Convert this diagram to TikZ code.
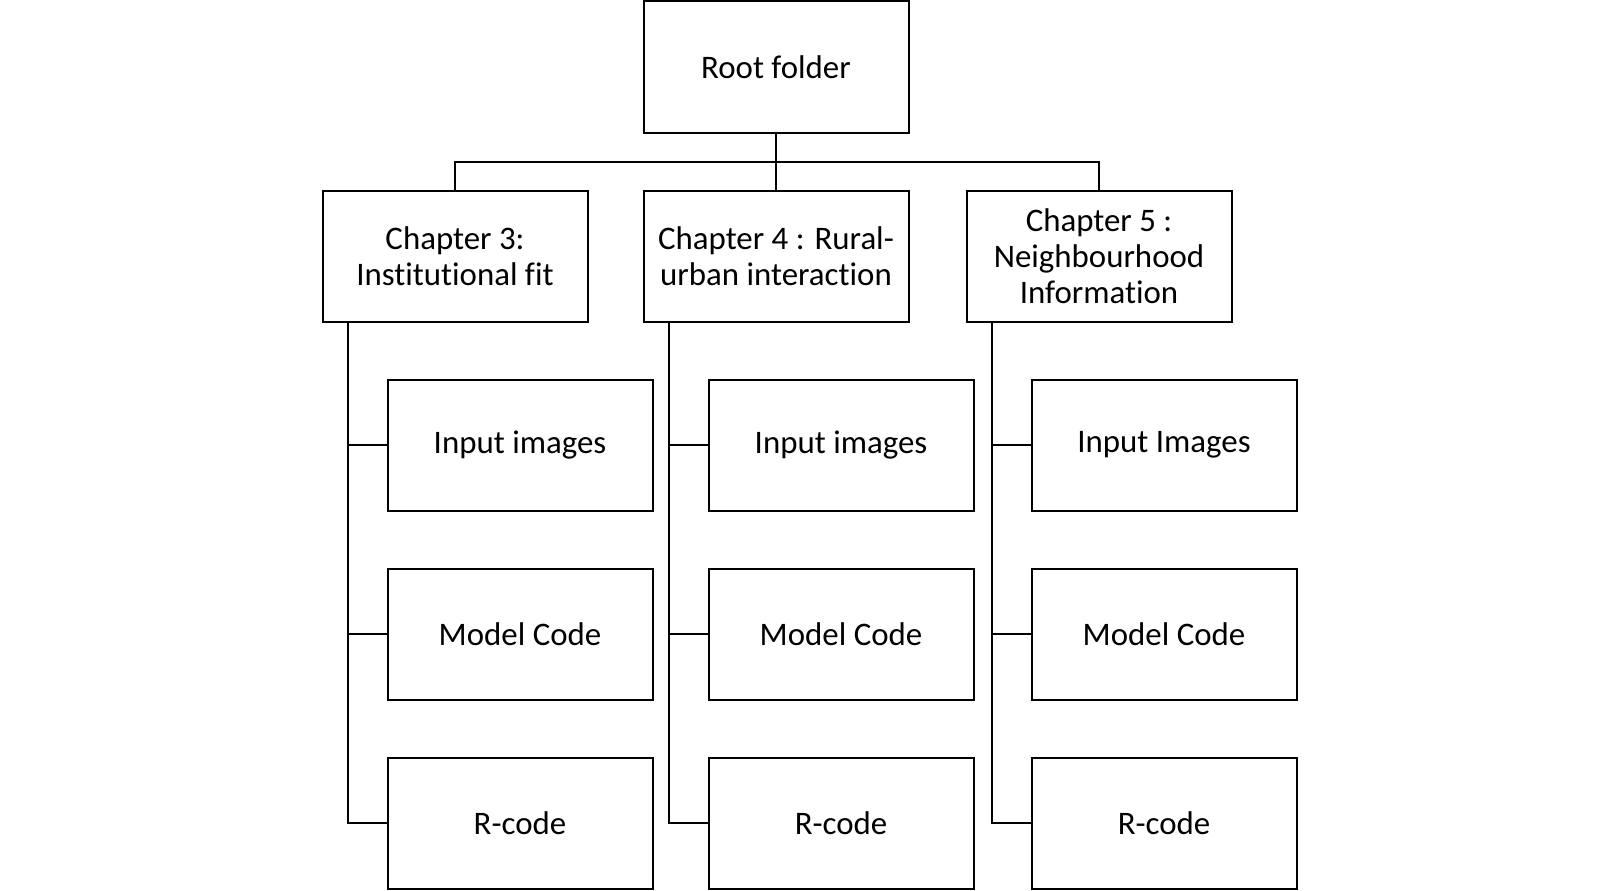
\documentclass[tikz,border=0pt]{standalone}
\usepackage{fontspec}
\setmainfont{Carlito}[Ligatures=NoCommon]

\begin{document}
\begin{tikzpicture}[x=1bp,y=-1bp,line width=2bp,
		folder/.style={draw,minimum width=265bp,minimum height=131bp,inner sep=0pt,align=center,font=\fontsize{33}{36}\selectfont}]
			\useasboundingbox (0,0) rectangle (1619,890);
			\node[folder] (root) at (776,67) {Root folder};
			\foreach \n/\x/\t/\img in {3/455/{Chapter 3:\\Institutional fit}/{Input images}, 4/776/{Chapter 4 : Rural-\\urban interaction}/{Input images}, 5/1099/{Chapter 5 :\\Neighbourhood\\Information}/{Input Images}} {
				\node[folder] (ch\n) at (\x,256) {\t};
				\node[folder] (in\n) at (\x+65,445) {\img};
				\node[folder] (mc\n) at (\x+65,634) {Model Code};
				\node[folder] (rc\n) at (\x+65,823) {R-code};
				\coordinate (t\n) at ([xshift=26bp]ch\n.south west);
				\draw (t\n) |- (rc\n.west);
				\draw (t\n |- in\n.west) -- (in\n.west);
				\draw (t\n |- mc\n.west) -- (mc\n.west);
			}
			\coordinate (bar) at (776,162);
			\draw (ch3.north) |- (bar) -| (ch5.north);
			\draw (root.south) -- (ch4.north);
		\end{tikzpicture}
\end{document}
